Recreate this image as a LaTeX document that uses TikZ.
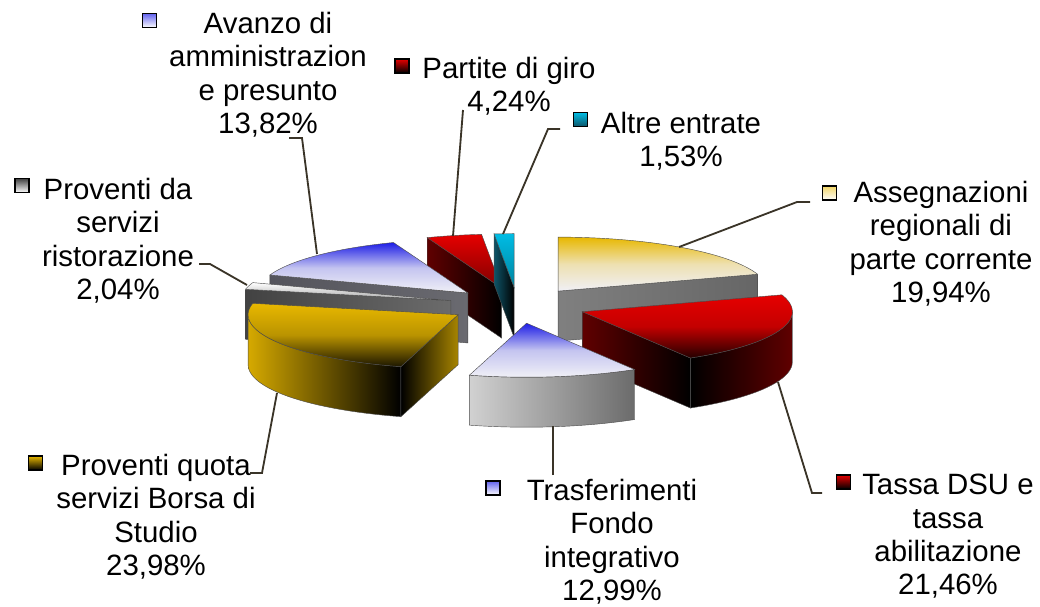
\documentclass[tikz,border=0pt]{standalone}
\usepackage{fontspec}
\setmainfont{Liberation Sans}
\definecolor{leadline}{RGB}{58,52,40}
\definecolor{pieblue}{RGB}{30,30,230}
\definecolor{pielav}{RGB}{196,196,240}
\definecolor{piewhite}{RGB}{240,240,246}
\definecolor{piered}{RGB}{230,0,0}
\definecolor{piedred}{RGB}{96,0,0}
\definecolor{piegold}{RGB}{232,184,0}
\definecolor{piecyan}{RGB}{0,188,228}
\definecolor{pieteal}{RGB}{14,84,104}

\begin{document}
\begin{tikzpicture}[x=0.025cm,y=-0.025cm,
  face/.style={draw=black!70,line width=0.3pt},
  leader/.style={draw=leadline,line width=1.3pt},
  key/.style={draw=black,line width=1pt,minimum size=10pt,inner sep=0pt},
  lab/.style={align=center,anchor=north,inner sep=0pt,font=\fontsize{20.9}{23.7}\selectfont}]
\useasboundingbox (0,0) rectangle (1040,606);

% Partite di giro
\begin{scope}[shift={(501.7,288.1)}]
\path[face,left color=piedred,right color=black] (0,0) -- ({210*sin(339.23)},{-54*cos(339.23)}) -- ++(0,50) -- (0,50) -- cycle;
\path[face,top color=piered,bottom color=piered!55!black] (0,0) -- plot[domain=339.23:354.49,samples=10] ({210*sin(\x)},{-54*cos(\x)}) -- cycle;
\end{scope}

% Altre entrate
\begin{scope}[shift={(514.2,287.7)}]
\path[face,left color=pieteal,right color=black] (0,0) -- ({210*sin(354.49)},{-54*cos(354.49)}) -- ++(0,50) -- (0,50) -- cycle;
\path[face,top color=piecyan,bottom color=piecyan!70!black] (0,0) -- plot[domain=354.49:360,samples=6] ({210*sin(\x)},{-54*cos(\x)}) -- cycle;
\end{scope}

% Avanzo di amministrazione
\begin{scope}[shift={(467.9,293.0)}]
\path[face,left color={rgb,255:red,84;green,84;blue,92},right color={rgb,255:red,106;green,106;blue,112}] (0,0) -- ({210*sin(289.48)},{-54*cos(289.48)}) -- ++(0,50) -- (0,50) -- cycle;
\path[face,top color=pieblue,bottom color=piewhite,middle color=pielav] (0,0) -- plot[domain=289.48:339.23,samples=30] ({210*sin(\x)},{-54*cos(\x)}) -- cycle;
\end{scope}

% Assegnazioni regionali
\begin{scope}[shift={(558.1,291.1)}]
\path[face,left color=black!50,right color=black!60] (0,0) -- ({210*sin(71.78)},{-54*cos(71.78)}) -- ++(0,50) -- (0,50) -- cycle;
\path[face,top color=piegold,bottom color=piewhite,middle color=piegold!28!piewhite] (0,0) -- plot[domain=0:71.78,samples=40] ({210*sin(\x)},{-54*cos(\x)}) -- cycle;
\end{scope}

% Proventi ristorazione
\begin{scope}[shift={(450.8,300.6)}]
\path[face,left color=black!74,right color=black!58] (0,0) -- ({210*sin(282.13)},{-54*cos(282.13)}) -- ++(0,50) -- (0,50) -- cycle;
\path[face,top color=white,bottom color=black!35] (0,0) -- plot[domain=282.13:289.48,samples=6] ({210*sin(\x)},{-54*cos(\x)}) -- cycle;
\end{scope}

% Proventi quota Borsa di Studio
\begin{scope}[shift={(458.1,314.7)}]
\path[face,left color=piegold!92!black,right color=black] plot[domain=195.8:270,samples=30] ({210*sin(\x)},{-54*cos(\x)}) -- plot[domain=270:195.8,samples=30] ({210*sin(\x)},{50-54*cos(\x)}) -- cycle;
\path[face,left color=black,right color=piegold!72!black] (0,0) -- ({210*sin(195.8)},{-54*cos(195.8)}) -- ++(0,50) -- (0,50) -- cycle;
\path[face,top color=piegold,bottom color=black!88!piegold,middle color=piegold!80!black] (0,0) -- plot[domain=195.8:282.13,samples=40] ({210*sin(\x)},{-54*cos(\x)}) -- cycle;
\end{scope}

% Tassa DSU
\begin{scope}[shift={(582.4,311.7)}]
\path[face,left color=black,right color=piedred] plot[domain=90:149.04,samples=30] ({210*sin(\x)},{-54*cos(\x)}) -- plot[domain=149.04:90,samples=30] ({210*sin(\x)},{50-54*cos(\x)}) -- cycle;
\path[face,left color=piedred,right color=black] (0,0) -- ({210*sin(149.04)},{-54*cos(149.04)}) -- ++(0,50) -- (0,50) -- cycle;
\path[face,top color=piered,bottom color=black!85!piered,middle color=piered!85!black] (0,0) -- plot[domain=71.78:149.04,samples=40] ({210*sin(\x)},{-54*cos(\x)}) -- cycle;
\end{scope}

% Trasferimenti
\begin{scope}[shift={(526.6,323.2)}]
\path[face,left color=black!18,right color=black!58] plot[domain=149.04:195.8,samples=30] ({210*sin(\x)},{-54*cos(\x)}) -- plot[domain=195.8:149.04,samples=30] ({210*sin(\x)},{50-54*cos(\x)}) -- cycle;
\path[face,top color=pieblue,bottom color=piewhite,middle color=pielav] (0,0) -- plot[domain=149.04:195.8,samples=30] ({210*sin(\x)},{-54*cos(\x)}) -- cycle;
\end{scope}

% labels
\node[key,top color=pieblue!70!white,bottom color=white] (kavanzo) at (149.5,20.5) {};
\node[lab] (tavanzo) at (268,12) {Avanzo di\\amministrazion\\e presunto\\13,82\%};
\node[key,top color=piered,bottom color=black] (kpartite) at (402,66) {};
\node[lab] (tpartite) at (509,57) {Partite di giro\\4,24\%};
\node[key,top color=piecyan,bottom color=pieteal] (kaltre) at (580.5,119.5) {};
\node[lab] (taltre) at (681,112) {Altre entrate\\1,53\%};
\node[key,top color=piegold!60!white,bottom color=white] (kassegn) at (829.5,193) {};
\node[lab] (tassegn) at (941,181) {Assegnazioni\\regionali di\\parte corrente\\19,94\%};
\node[key,top color=piered,bottom color=black] (ktassa) at (843.5,482) {};
\node[lab] (ttassa) at (948,474) {Tassa DSU e\\tassa\\abilitazione\\21,46\%};
\node[key,top color=pieblue!70!white,bottom color=white] (ktrasf) at (493,488) {};
\node[lab] (ttrasf) at (612,479) {Trasferimenti\\Fondo\\integrativo\\12,99\%};
\node[key,top color=piegold,bottom color=black] (kborsa) at (35.5,463) {};
\node[lab] (tborsa) at (156,454) {Proventi quota\\servizi Borsa di\\Studio\\23,98\%};
\node[key,top color=black!75,bottom color=white] (kristor) at (22,185.5) {};
\node[lab] (tristor) at (118,178) {Proventi da\\servizi\\ristorazione\\2,04\%};

% leaders
\coordinate (lavanzo) at (289,138);  \coordinate (pavanzo) at (317,254);
\coordinate (lpartite) at (463,110); \coordinate (ppartite) at (453,236);
\coordinate (laltre) at (560,129);   \coordinate (paltre) at (503,234);
\coordinate (lassegn) at (810,202);  \coordinate (passegn) at (679,247);
\coordinate (ltassa) at (822,493);   \coordinate (ptassa) at (778,382);
\coordinate (ltrasf) at (553,475);   \coordinate (ptrasf) at (553,426);
\coordinate (lborsa) at (250,473);   \coordinate (pborsa) at (277,393);
\coordinate (lristor) at (199,264);  \coordinate (pristor) at (247,285);
\draw[leader] (lavanzo) -- ++(13,0) -- (pavanzo);
\draw[leader] (lpartite) -- (ppartite);
\draw[leader] (laltre) -- ++(-12,0) -- (paltre);
\draw[leader] (lassegn) -- ++(-13,0) -- (passegn);
\draw[leader] (ltassa) -- ++(-10,0) -- (ptassa);
\draw[leader] (ltrasf) -- (ptrasf);
\draw[leader] (lborsa) -- ++(12,0) -- (pborsa);
\draw[leader] (lristor) -- ++(11,0) -- (pristor);
\end{tikzpicture}
\end{document}
